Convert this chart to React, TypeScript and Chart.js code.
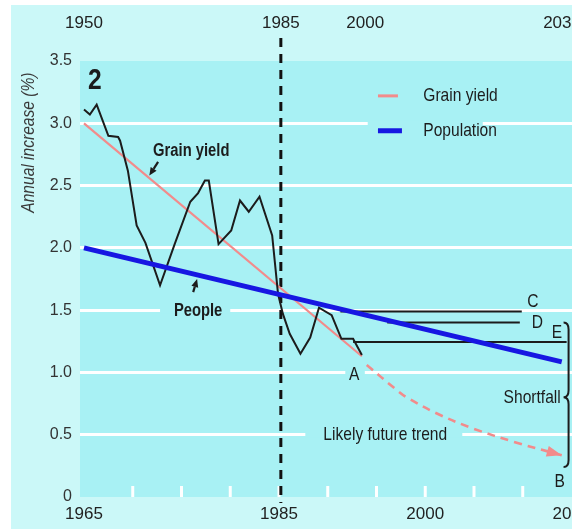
import React, { useEffect, useRef } from 'react';
import { Chart, registerables } from 'chart.js';

Chart.register(...registerables);

// ---------------- data ----------------
const grainYears = [1965.0, 1965.6, 1966.3, 1967.5, 1968.5, 1968.7, 1969.5, 1970.4, 1971.3, 1972.8, 1974.3, 1975.9, 1976.7, 1977.4, 1977.8, 1978.8, 1980.1, 1981.0, 1981.9, 1983.0, 1984.3, 1984.9, 1985.4, 1986.1, 1987.2, 1988.2, 1989.1, 1990.4, 1991.4, 1992.6, 1993.5];
const grainValues = [3.11, 3.07, 3.15, 2.9, 2.89, 2.86, 2.62, 2.18, 2.04, 1.7, 2.03, 2.37, 2.44, 2.54, 2.54, 2.03, 2.14, 2.38, 2.29, 2.41, 2.1, 1.63, 1.47, 1.31, 1.15, 1.28, 1.52, 1.46, 1.27, 1.27, 1.14];

const trendYears = [1965, 1993.5];
const trendValues = [3.0, 1.13];

const futureYears = [1994.0, 1996.9, 1998.1, 2001.2, 2004.9, 2009.2, 2014.0];
const futureValues = [1.06, 0.87, 0.8, 0.67, 0.55, 0.44, 0.335];

const popYears = [1965, 2014.0];
const popValues = [2.0, 1.085];

const levelCYears = [1991.3, 2009.9];
const levelCValues = [1.49, 1.49];
const levelDYears = [1996.1, 2009.7];
const levelDValues = [1.4, 1.4];
const levelEYears = [1992.6, 2014.5];
const levelEValues = [1.245, 1.245];

const bottomTickYears = [1965, 1985, 2000, 2015];
const topTickYears = [1950, 1985, 2000, 2035];
const minorTickYears = [1970, 1975, 1980, 1985, 1990, 1995, 2000, 2005, 2010];
const yTickValues = [0, 0.5, 1.0, 1.5, 2.0, 2.5, 3.0, 3.5];
const dividerYear = 1985; // on the top (population) axis

// ---------------- style / layout ----------------
const W = 640;
const H = 529;
const FONT = "'Liberation Sans', Arial, sans-serif";
const NARROW = 0.82; // horizontal squeeze to imitate a narrow face
const INK = '#1c1c1c';
const PLOT_BG = '#a8f1f4';
const OUTER_BG = '#cbf8f8';
const PINK = '#f28b8b';
const BLUE = '#1717e2';
const LEFT_WHITE = 11;
const TOP_WHITE = 5;

const X_MIN = 1965 - 4 / 9.75;
const X_MAX = X_MIN + 560 / 9.75;
const TOP_MIN = 1950 - 4 / 5.624;
const TOP_MAX = TOP_MIN + 560 / 5.624;

// annotation anchors, in data units
const ANN = {
  panel: { x: 1966.1, y: 3.34 },
  grainLabel: { x: 1976.0, y: 2.78 },
  grainArrow: { x1: 1972.6, y1: 2.69, x2: 1971.7, y2: 2.58 },
  peopleLabel: { x: 1976.7, y: 1.49 },
  peopleArrow: { x1: 1976.2, y1: 1.645, x2: 1976.6, y2: 1.75 },
  C: { x: 2011.05, y: 1.565 },
  D: { x: 2011.5, y: 1.4 },
  E: { x: 2013.5, y: 1.32 },
  A: { x: 1992.7, y: 0.98 },
  B: { x: 2013.8, y: 0.12 },
  shortfall: { x: 2013.9, y: 0.8 },
  brace: { x: 2014.7, top: 1.4, mid: 0.8, bottom: 0.24 },
  future: { x: 1995.9, y: 0.5 },
  legend: { x1: 1995.15, x2: 1997.2, tx: 1999.8, y1: 3.22, y2: 2.94 },
  yTitle: { y: 2.845 },
};

const GAPS = [
  { x1: 1994.1, x2: 2005.9, y: 3.0 },
  { x1: 1972.8, x2: 1980.0, y: 1.5 },
  { x1: 1987.7, x2: 2003.8, y: 0.5 },
  { x1: 1991.8, x2: 1993.8, y: 1.0 },
];

const toPts = (xs: number[], ys: number[]) => xs.map((x, i) => ({ x, y: ys[i] }));

function drawArrow(ctx: CanvasRenderingContext2D, x1: number, y1: number, x2: number, y2: number, head: number, half: number, color: string, width: number) {
  const ang = Math.atan2(y2 - y1, x2 - x1);
  const bx = x2 - head * Math.cos(ang);
  const by = y2 - head * Math.sin(ang);
  ctx.strokeStyle = color;
  ctx.fillStyle = color;
  ctx.lineWidth = width;
  ctx.setLineDash([]);
  ctx.beginPath();
  ctx.moveTo(x1, y1);
  ctx.lineTo(bx, by);
  ctx.stroke();
  ctx.beginPath();
  ctx.moveTo(x2, y2);
  ctx.lineTo(bx + half * Math.sin(ang), by - half * Math.cos(ang));
  ctx.lineTo(bx - half * Math.sin(ang), by + half * Math.cos(ang));
  ctx.closePath();
  ctx.fill();
}

function text(ctx: CanvasRenderingContext2D, s: string, x: number, y: number, font: string, align: CanvasTextAlign = 'center', color = INK) {
  ctx.save();
  ctx.translate(x, y);
  ctx.scale(NARROW, 1);
  ctx.font = font;
  ctx.textAlign = align;
  ctx.textBaseline = 'middle';
  ctx.fillStyle = color;
  ctx.fillText(s, 0, 0);
  ctx.restore();
}

const decor = {
  id: 'decor',
  beforeDraw(chart: any) {
    const { ctx, chartArea: a } = chart;
    ctx.save();
    ctx.fillStyle = '#ffffff';
    ctx.fillRect(0, 0, chart.width, chart.height);
    ctx.fillStyle = OUTER_BG;
    ctx.fillRect(LEFT_WHITE, TOP_WHITE, chart.width, chart.height);
    ctx.fillStyle = PLOT_BG;
    ctx.fillRect(a.left, a.top, a.right - a.left, a.bottom - a.top);
    ctx.restore();
  },
  beforeDatasetsDraw(chart: any) {
    const { ctx, chartArea: a } = chart;
    const xs = chart.scales.x;
    const ys = chart.scales.y;
    const xt = chart.scales.xTop;
    ctx.save();
    ctx.fillStyle = PLOT_BG;
    GAPS.forEach((g) => {
      const yy = ys.getPixelForValue(g.y);
      const x1 = xs.getPixelForValue(g.x1);
      const x2 = xs.getPixelForValue(g.x2);
      ctx.fillRect(x1, yy - 3, x2 - x1, 6);
    });
    ctx.strokeStyle = '#ffffff';
    ctx.lineWidth = 3;
    minorTickYears.forEach((v) => {
      const x = xs.getPixelForValue(v);
      ctx.beginPath();
      ctx.moveTo(x, a.bottom);
      ctx.lineTo(x, a.bottom - 11);
      ctx.stroke();
    });
    const dx = xt.getPixelForValue(dividerYear);
    ctx.strokeStyle = '#111111';
    ctx.lineWidth = 3;
    ctx.setLineDash([9, 7]);
    ctx.beginPath();
    ctx.moveTo(dx, a.top - 23);
    ctx.lineTo(dx, a.bottom + 6);
    ctx.stroke();
    ctx.restore();
  },
  afterDatasetsDraw(chart: any) {
    const { ctx, chartArea: a } = chart;
    const xs = chart.scales.x;
    const ys = chart.scales.y;
    const X = (v: number) => xs.getPixelForValue(v);
    const Y = (v: number) => ys.getPixelForValue(v);
    ctx.save();

    const n = futureYears.length;
    drawArrow(ctx, X(futureYears[n - 2]), Y(futureValues[n - 2]), X(futureYears[n - 1]), Y(futureValues[n - 1]), 15, 5.5, PINK, 0.01);

    const L = ANN.legend;
    ctx.setLineDash([]);
    ctx.lineCap = 'butt';
    ctx.strokeStyle = PINK;
    ctx.lineWidth = 3;
    ctx.beginPath();
    ctx.moveTo(X(L.x1), Y(L.y1));
    ctx.lineTo(X(L.x2), Y(L.y1));
    ctx.stroke();
    ctx.strokeStyle = BLUE;
    ctx.lineWidth = 5;
    ctx.beginPath();
    ctx.moveTo(X(L.x1), Y(L.y2));
    ctx.lineTo(X(L.x2) + 4, Y(L.y2));
    ctx.stroke();
    const reg = `19px ${FONT}`;
    const bold = `bold 18px ${FONT}`;
    text(ctx, 'Grain yield', X(L.tx), Y(L.y1), reg, 'left');
    text(ctx, 'Population', X(L.tx), Y(L.y2), reg, 'left');

    text(ctx, '2', X(ANN.panel.x), Y(ANN.panel.y), `bold 30px ${FONT}`);

    text(ctx, 'Grain yield', X(ANN.grainLabel.x), Y(ANN.grainLabel.y), bold);
    const ga = ANN.grainArrow;
    drawArrow(ctx, X(ga.x1), Y(ga.y1), X(ga.x2), Y(ga.y2), 8, 3.5, INK, 2.2);
    text(ctx, 'People', X(ANN.peopleLabel.x), Y(ANN.peopleLabel.y), bold);
    const pa = ANN.peopleArrow;
    drawArrow(ctx, X(pa.x1), Y(pa.y1), X(pa.x2), Y(pa.y2), 8, 3.5, INK, 2.2);

    text(ctx, 'C', X(ANN.C.x), Y(ANN.C.y), reg);
    text(ctx, 'D', X(ANN.D.x), Y(ANN.D.y), reg);
    text(ctx, 'E', X(ANN.E.x), Y(ANN.E.y), reg);
    text(ctx, 'A', X(ANN.A.x), Y(ANN.A.y), reg);
    text(ctx, 'B', X(ANN.B.x), Y(ANN.B.y), reg);
    text(ctx, 'Shortfall', X(ANN.shortfall.x), Y(ANN.shortfall.y), reg, 'right');
    text(ctx, 'Likely future trend', X(ANN.future.x), Y(ANN.future.y), reg);

    const br = ANN.brace;
    const bx = X(br.x);
    const t = Y(br.top);
    const m = Y(br.mid);
    const b = Y(br.bottom);
    ctx.strokeStyle = INK;
    ctx.lineWidth = 2;
    ctx.setLineDash([]);
    ctx.beginPath();
    ctx.moveTo(bx - 5, t);
    ctx.quadraticCurveTo(bx, t, bx, t + 7);
    ctx.lineTo(bx, m - 7);
    ctx.quadraticCurveTo(bx, m, bx - 5, m);
    ctx.quadraticCurveTo(bx, m, bx, m + 7);
    ctx.lineTo(bx, b - 7);
    ctx.quadraticCurveTo(bx, b, bx - 5, b);
    ctx.stroke();

    ctx.translate(a.left - 51, Y(ANN.yTitle.y));
    ctx.rotate(-Math.PI / 2);
    text(ctx, 'Annual increase (%)', 0, 0, `italic 19px ${FONT}`, 'center', '#3a3a3a');
    ctx.restore();
  },
};

export default function App() {
  const ref = useRef<HTMLCanvasElement>(null);
  useEffect(() => {
    const line = (data: any, color: string, width: number, extra: any = {}) => ({
      data,
      borderColor: color,
      borderWidth: width,
      pointRadius: 0,
      fill: false,
      tension: 0,
      ...extra,
    });
    const chart = new Chart(ref.current as HTMLCanvasElement, {
      type: 'line',
      data: {
        datasets: [
          line(toPts(popYears, popValues), BLUE, 5, { label: 'Population' }),
          line(toPts(grainYears, grainValues), INK, 2, { label: 'Grain yield (actual)' }),
          line(toPts(trendYears, trendValues), PINK, 2.2, { label: 'Grain yield' }),
          line(toPts(futureYears, futureValues), PINK, 2.6, { label: 'Likely future trend', borderDash: [8, 6], tension: 0.35 }),
          line(toPts(levelCYears, levelCValues), INK, 2, { label: 'C' }),
          line(toPts(levelDYears, levelDValues), INK, 2, { label: 'D' }),
          line(toPts(levelEYears, levelEValues), INK, 2, { label: 'E' }),
        ],
      },
      options: {
        responsive: false,
        maintainAspectRatio: false,
        devicePixelRatio: 1,
        animation: false,
        layout: { padding: 0 },
        plugins: { legend: { display: false }, tooltip: { enabled: false }, title: { display: false } },
        scales: {
          x: {
            type: 'linear',
            position: 'bottom',
            min: X_MIN,
            max: X_MAX,
            grid: { display: false, drawTicks: false },
            border: { display: false },
            afterBuildTicks: (s: any) => { s.ticks = bottomTickYears.map((v) => ({ value: v })); },
            afterFit: (s: any) => { s.height = 32; },
            ticks: { font: { family: FONT, size: 17 }, color: '#222', padding: 7, autoSkip: false, maxRotation: 0, callback: (v: any) => String(v) },
          },
          xTop: {
            type: 'linear',
            position: 'top',
            min: TOP_MIN,
            max: TOP_MAX,
            grid: { display: false, drawTicks: false },
            border: { display: false },
            afterBuildTicks: (s: any) => { s.ticks = topTickYears.map((v) => ({ value: v })); },
            afterFit: (s: any) => { s.height = 61; },
            ticks: { font: { family: FONT, size: 17 }, color: '#222', padding: 27, autoSkip: false, maxRotation: 0, callback: (v: any) => String(v) },
          },
          y: {
            type: 'linear',
            min: 0,
            max: 3.5,
            border: { display: false },
            grid: {
              drawTicks: false,
              lineWidth: 3,
              color: (c: any) => (c.tick && (c.tick.value === 0 || c.tick.value === 3.5) ? 'rgba(0,0,0,0)' : '#ffffff'),
            },
            afterBuildTicks: (s: any) => { s.ticks = yTickValues.map((v) => ({ value: v })); },
            afterFit: (s: any) => { s.width = 80; },
            ticks: { font: { family: FONT, size: 16 }, color: '#333', padding: 8, callback: (v: any) => (v === 0 ? '0' : Number(v).toFixed(1)) },
          },
        },
      } as any,
      plugins: [decor as any],
    } as any);
    return () => chart.destroy();
  }, []);
  return (
    <div style={{ position: 'fixed', left: 0, top: 0, width: 572, height: 529, overflow: 'hidden', background: '#fff' }}>
      <canvas ref={ref} width={W} height={H} style={{ display: 'block', width: W, height: H }} />
    </div>
  );
}
